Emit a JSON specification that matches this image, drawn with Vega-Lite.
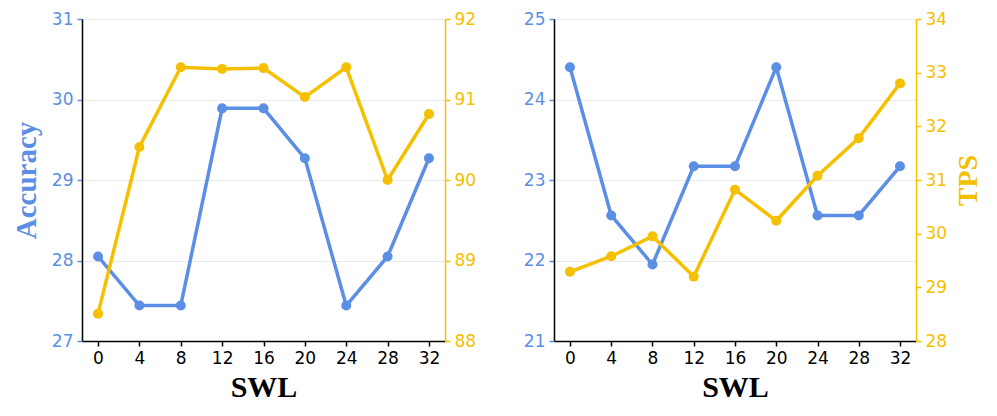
{
  "$schema": "https://vega.github.io/schema/vega-lite/v6.json",
  "padding": {"left": 12, "top": 10, "right": 5, "bottom": 5},
  "background": "white",
  "spacing": 47,
  "config": {
    "view": {"stroke": null},
    "axis": {
      "labelFont": "DejaVu Sans",
      "labelFontSize": 17,
      "titleFont": "Liberation Serif",
      "titleFontWeight": "bold",
      "tickSize": 5,
      "tickWidth": 1.5,
      "domainWidth": 1.5,
      "labelPadding": 4,
      "gridColor": "#ebebeb",
      "gridWidth": 1
    }
  },
  "hconcat": [
    {
      "width": 363,
      "height": 322,
      "data": {"values": [
        {"SWL": 0, "acc": 28.05, "tps": 88.34},
        {"SWL": 4, "acc": 27.44, "tps": 90.41},
        {"SWL": 8, "acc": 27.44, "tps": 91.40},
        {"SWL": 12, "acc": 29.89, "tps": 91.38},
        {"SWL": 16, "acc": 29.89, "tps": 91.39},
        {"SWL": 20, "acc": 29.27, "tps": 91.03},
        {"SWL": 24, "acc": 27.44, "tps": 91.40},
        {"SWL": 28, "acc": 28.05, "tps": 90.00},
        {"SWL": 32, "acc": 29.27, "tps": 90.82}
      ]},
      "layer": [
        {
          "mark": {"type": "line", "color": "#5b8fe6", "strokeWidth": 3.5, "point": {"filled": true, "size": 100, "color": "#5b8fe6"}},
          "encoding": {
            "x": {"field": "SWL", "type": "quantitative",
              "scale": {"domain": [-1.55, 33.55], "nice": false, "zero": false},
              "axis": {"values": [0, 4, 8, 12, 16, 20, 24, 28, 32], "grid": false, "title": "SWL", "titleFontSize": 30, "titleColor": "black", "labelColor": "black", "tickColor": "black", "domainColor": "black", "titlePadding": 6}},
            "y": {"field": "acc", "type": "quantitative",
              "scale": {"domain": [27, 31], "nice": false, "zero": false},
              "axis": {"orient": "left", "values": [27, 28, 29, 30, 31], "grid": true, "title": "Accuracy", "titleFontSize": 29, "titleColor": "#5b8fe6", "labelColor": "#5b8fe6", "tickColor": "#5b8fe6", "domainColor": "black", "titlePadding": 10}}
          }
        },
        {
          "mark": {"type": "line", "color": "#f5c000", "strokeWidth": 3.5, "point": {"filled": true, "size": 100, "color": "#f5c000"}},
          "encoding": {
            "x": {"field": "SWL", "type": "quantitative"},
            "y": {"field": "tps", "type": "quantitative",
              "scale": {"domain": [88, 92], "nice": false, "zero": false},
              "axis": {"orient": "right", "values": [88, 89, 90, 91, 92], "grid": false, "title": null, "labelColor": "#f5c000", "tickColor": "#f5c000", "domainColor": "#f5c000"}}
          }
        }
      ],
      "resolve": {"scale": {"y": "independent"}}
    },
    {
      "width": 362,
      "height": 322,
      "data": {"values": [
        {"SWL": 0, "acc": 24.40, "tps": 29.29},
        {"SWL": 4, "acc": 22.56, "tps": 29.58},
        {"SWL": 8, "acc": 21.95, "tps": 29.95},
        {"SWL": 12, "acc": 23.17, "tps": 29.20},
        {"SWL": 16, "acc": 23.17, "tps": 30.82},
        {"SWL": 20, "acc": 24.40, "tps": 30.24},
        {"SWL": 24, "acc": 22.56, "tps": 31.08},
        {"SWL": 28, "acc": 22.56, "tps": 31.78},
        {"SWL": 32, "acc": 23.17, "tps": 32.80}
      ]},
      "layer": [
        {
          "mark": {"type": "line", "color": "#5b8fe6", "strokeWidth": 3.5, "point": {"filled": true, "size": 100, "color": "#5b8fe6"}},
          "encoding": {
            "x": {"field": "SWL", "type": "quantitative",
              "scale": {"domain": [-1.55, 33.55], "nice": false, "zero": false},
              "axis": {"values": [0, 4, 8, 12, 16, 20, 24, 28, 32], "grid": false, "title": "SWL", "titleFontSize": 30, "titleColor": "black", "labelColor": "black", "tickColor": "black", "domainColor": "black", "titlePadding": 6}},
            "y": {"field": "acc", "type": "quantitative",
              "scale": {"domain": [21, 25], "nice": false, "zero": false},
              "axis": {"orient": "left", "values": [21, 22, 23, 24, 25], "grid": true, "title": null, "labelColor": "#5b8fe6", "tickColor": "#5b8fe6", "domainColor": "black"}}
          }
        },
        {
          "mark": {"type": "line", "color": "#f5c000", "strokeWidth": 3.5, "point": {"filled": true, "size": 100, "color": "#f5c000"}},
          "encoding": {
            "x": {"field": "SWL", "type": "quantitative"},
            "y": {"field": "tps", "type": "quantitative",
              "scale": {"domain": [28, 34], "nice": false, "zero": false},
              "axis": {"orient": "right", "values": [28, 29, 30, 31, 32, 33, 34], "grid": false, "title": "TPS", "titleAngle": 270, "titleBaseline": "top", "titleFontSize": 28, "titleColor": "#f5c000", "labelColor": "#f5c000", "tickColor": "#f5c000", "domainColor": "#f5c000", "titlePadding": 8}}
          }
        }
      ],
      "resolve": {"scale": {"y": "independent"}}
    }
  ]
}
